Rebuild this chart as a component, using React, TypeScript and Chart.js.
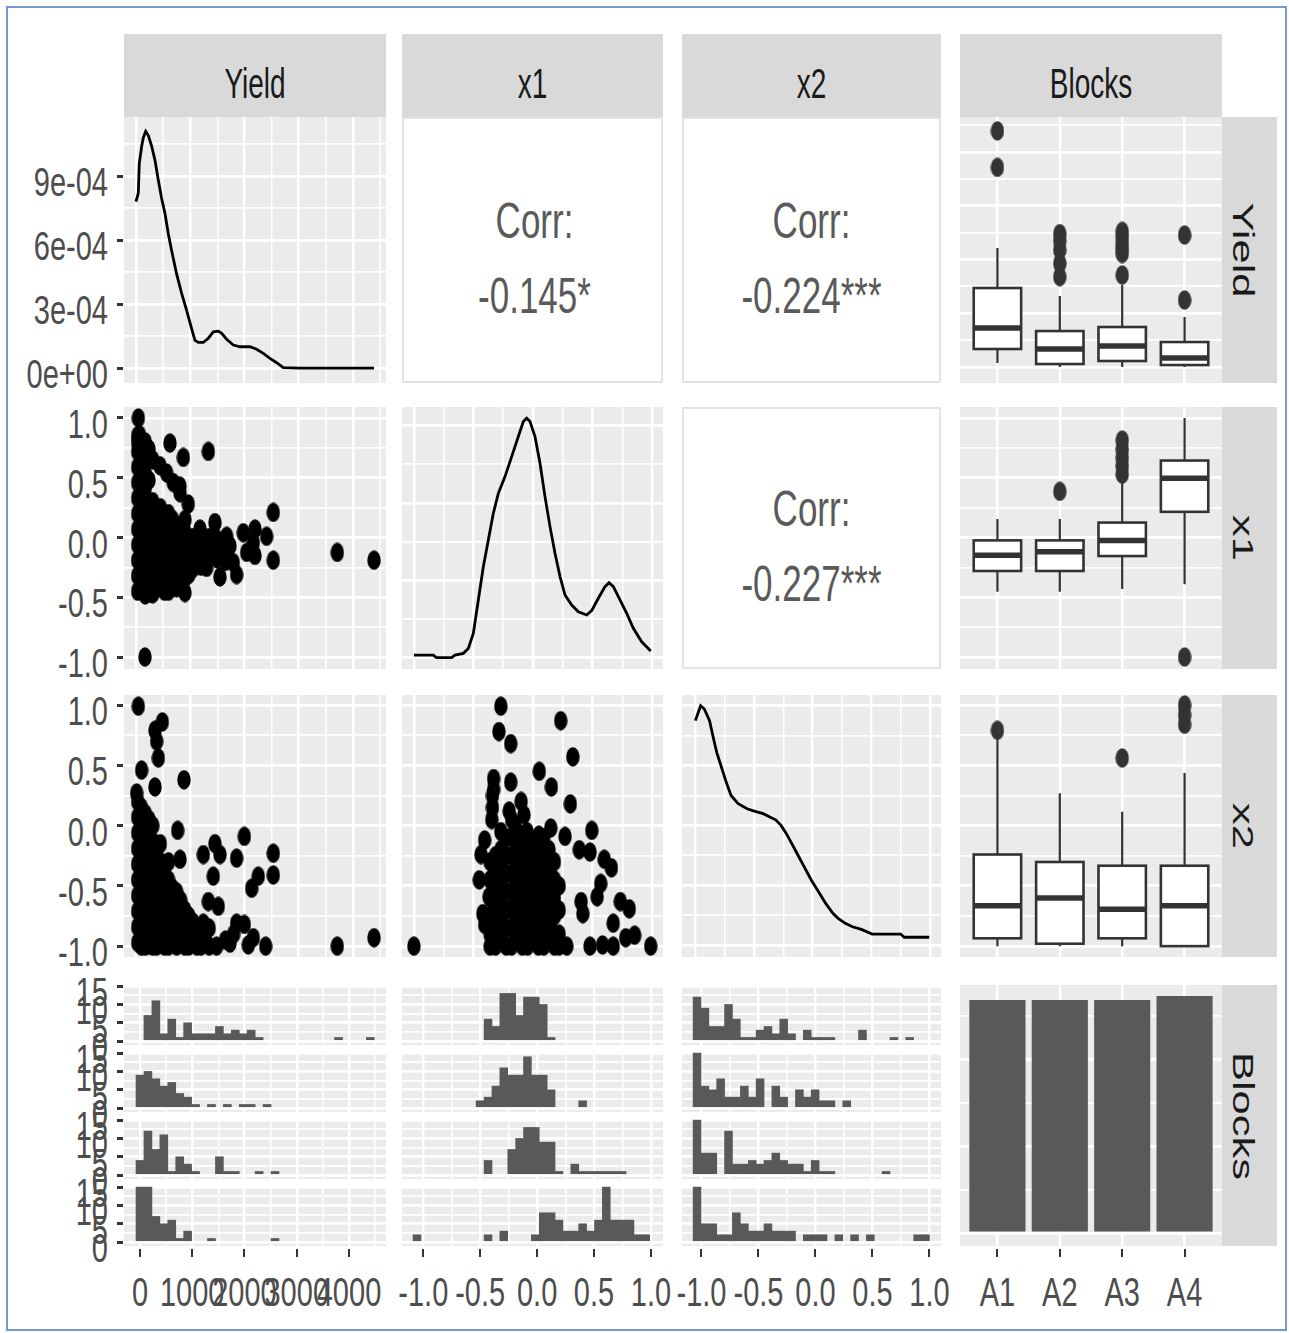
import React, { useEffect, useRef } from 'react';
import { Chart, registerables } from 'chart.js';

Chart.register(...registerables);

// ------------------------------------------------------------------ data
const variableNames = ['Yield', 'x1', 'x2', 'Blocks'];
const blockLabels = ['A1', 'A2', 'A3', 'A4'];
const blockPositions = [1, 2, 3, 4];
const blockCounts = [59, 59, 59, 60];

const yieldTickValues = [0, 1000, 2000, 3000, 4000];
const yieldTickLabels = ['0', '1000', '2000', '3000', '4000'];
const unitTickValues = [-1, -0.5, 0, 0.5, 1];
const unitTickLabels = ['-1.0', '-0.5', '0.0', '0.5', '1.0'];
const densityTickValues = [0, 3e-4, 6e-4, 9e-4];
const densityTickLabels = ['0e+00', '3e-04', '6e-04', '9e-04'];
const countTickValues = [0, 5, 10, 15];
const countTickLabels = ['0', '5', '10', '15'];

const corrValues = ['-0.145*', '-0.224***', '-0.227***'];

// gridline breaks
const yieldMajor = [0, 1000, 2000, 3000, 4000];
const yieldMinor = [500, 1500, 2500, 3500, 4500];
const unitMajor = [-1, -0.5, 0, 0.5, 1];
const unitMinor = [-0.75, -0.25, 0.25, 0.75];
const densMajor = [0, 3e-4, 6e-4, 9e-4];
const densMinor = [1.5e-4, 4.5e-4, 7.5e-4, 1.05e-3];
const x1DensMajor = [0, 0.5, 1, 1.5];
const x1DensMinor = [0.25, 0.75, 1.25];
const x2DensMajor = [0, 0.5, 1, 1.5, 2];
const x2DensMinor = [0.25, 0.75, 1.25, 1.75];
const countMajor = [0, 5, 10, 15];
const countMinor = [2.5, 7.5, 12.5];
const blockCountMajor = [0, 22, 44];
const blockCountMinor = [11, 33, 55];

// diagonal densities
const yieldDensityX = [0, 43, 61, 105, 135, 179, 228, 289, 350, 412, 473, 535, 596, 658, 750, 842, 934, 1026, 1088, 1149, 1241, 1334, 1426, 1518, 1580, 1672, 1795, 1918, 2102, 2225, 2348, 2471, 2594, 2717, 3025, 3639, 4390];
const yieldDensityY = [7.8e-4, 8.2e-4, 9.6e-4, 1.04e-3, 1.08e-3, 1.11e-3, 1.09e-3, 1.04e-3, 9.75e-4, 8.8e-4, 7.95e-4, 7.25e-4, 6.3e-4, 5.5e-4, 4.4e-4, 3.5e-4, 2.7e-4, 1.85e-4, 1.3e-4, 1.2e-4, 1.2e-4, 1.4e-4, 1.7e-4, 1.73e-4, 1.63e-4, 1.35e-4, 1.08e-4, 1.0e-4, 1.0e-4, 8.8e-5, 6.9e-5, 4.5e-5, 2.5e-5, 2e-6, 0, 0, 0];
const x1DensityX = [-1.0, -0.838, -0.81, -0.683, -0.655, -0.585, -0.543, -0.501, -0.459, -0.417, -0.375, -0.333, -0.291, -0.235, -0.179, -0.123, -0.081, -0.053, -0.025, 0.017, 0.059, 0.101, 0.143, 0.185, 0.227, 0.269, 0.325, 0.381, 0.451, 0.493, 0.549, 0.605, 0.639, 0.675, 0.731, 0.787, 0.843, 0.913, 0.989];
const x1DensityY = [0.017, 0.017, 0, 0, 0.017, 0.028, 0.06, 0.157, 0.373, 0.588, 0.761, 0.933, 1.062, 1.17, 1.299, 1.429, 1.526, 1.547, 1.526, 1.429, 1.256, 1.041, 0.847, 0.675, 0.524, 0.405, 0.34, 0.297, 0.276, 0.304, 0.384, 0.459, 0.485, 0.459, 0.373, 0.287, 0.19, 0.103, 0.043];
const x2DensityX = [-1.0, -0.955, -0.924, -0.879, -0.848, -0.818, -0.787, -0.742, -0.696, -0.635, -0.559, -0.498, -0.422, -0.361, -0.315, -0.27, -0.224, -0.178, -0.133, -0.072, -0.011, 0.05, 0.111, 0.172, 0.217, 0.278, 0.339, 0.415, 0.507, 0.659, 0.75, 0.781, 0.994];
const x2DensityY = [1.876, 2.0, 1.973, 1.876, 1.737, 1.611, 1.515, 1.376, 1.25, 1.181, 1.139, 1.119, 1.098, 1.069, 1.047, 1.0, 0.931, 0.848, 0.765, 0.653, 0.542, 0.445, 0.348, 0.265, 0.223, 0.181, 0.153, 0.131, 0.092, 0.092, 0.092, 0.065, 0.065];

// scatter panels
const yieldX1Points = [
  [43, 1.0], [64, 0.86], [30, 0.8], [627, 0.79], [873, 0.67], [1334, 0.72], [443, 0.6], [565, 0.54], [688, 0.46], [811, 0.375],
  [811, 0.43], [965, 0.28], [904, 0.15], [1457, 0.125], [2532, 0.21], [1979, 0.04], [2194, 0.07], [2409, 0.01], [2532, -0.19], [2194, -0.15],
  [2041, -0.125], [3712, -0.125], [4390, -0.19], [1303, -0.25], [1549, -0.33], [1856, -0.31], [904, -0.46], [658, -0.42], [258, -0.46], [166, -1.0],
  [1180, 0.07], [1180, -0.07], [1487, -0.01], [1733, -0.07], [1795, -0.21], [1672, 0.01], [2164, -0.04],
  [30, 0.85], [30, 0.72], [30, 0.59], [30, 0.46], [30, 0.33], [30, 0.2], [30, 0.07], [30, -0.06], [30, -0.19], [30, -0.32], [30, -0.45],
  [100, 0.78], [100, 0.65], [100, 0.52], [100, 0.39], [100, 0.26], [100, 0.13], [100, 0.0], [100, -0.13], [100, -0.26], [100, -0.39],
  [170, 0.8], [170, 0.67], [170, 0.54], [170, 0.41], [170, 0.28], [170, 0.15], [170, 0.02], [170, -0.11], [170, -0.24], [170, -0.37], [170, -0.48],
  [240, 0.74], [240, 0.48], [240, 0.22], [240, 0.09], [240, -0.04], [240, -0.17], [240, -0.3], [240, -0.43],
  [310, 0.65], [310, 0.3], [310, 0.17], [310, 0.04], [310, -0.09], [310, -0.22], [310, -0.35], [310, -0.47],
  [380, 0.23], [380, 0.1], [380, -0.03], [380, -0.16], [380, -0.29], [380, -0.42],
  [450, 0.25], [450, 0.12], [450, -0.01], [450, -0.14], [450, -0.27], [450, -0.4],
  [525, 0.18], [525, 0.05], [525, -0.08], [525, -0.21], [525, -0.34], [525, -0.45],
  [600, 0.2], [600, 0.07], [600, -0.06], [600, -0.19], [600, -0.32], [600, -0.45],
  [675, 0.15], [675, 0.02], [675, -0.11], [675, -0.24], [675, -0.37],
  [750, 0.1], [750, -0.03], [750, -0.16], [750, -0.29], [750, -0.42],
  [825, 0.0], [825, -0.13], [825, -0.26], [825, -0.39],
  [900, 0.05], [900, -0.08], [900, -0.21], [900, -0.34],
  [975, -0.05], [975, -0.18], [975, -0.31],
  [1050, 0.0], [1050, -0.13], [1050, -0.26], [1125, -0.07], [1125, -0.2],
  [1200, 0.02], [1200, -0.11], [1200, -0.24], [1275, -0.05], [1275, -0.18],
  [1350, 0.0], [1350, -0.13], [1500, -0.05], [1500, -0.18], [1650, -0.08], [1650, -0.2],
];
const yieldX2Points = [
  [43, 0.99], [486, 0.86], [350, 0.79], [381, 0.7], [412, 0.56], [104, 0.46], [350, 0.32], [885, 0.38], [12, 0.27], [768, -0.04],
  [1242, -0.24], [1457, -0.15], [1549, -0.24], [1856, -0.27], [1998, -0.09], [2532, -0.23], [2532, -0.41], [1426, -0.42], [2256, -0.42], [2133, -0.52],
  [1334, -0.63], [1518, -0.67], [1856, -0.81], [1998, -0.82], [2071, -0.99], [2164, -0.93], [2391, -1.0], [3712, -1.0], [4390, -0.93], [1487, -1.0],
  [1733, -0.975], [811, -0.28], [1242, -0.81], [1057, -0.89], [450, -0.15], [600, -0.3],
  [30, 0.2], [30, 0.07], [30, -0.06], [30, -0.19], [30, -0.32], [30, -0.45], [30, -0.58], [30, -0.71], [30, -0.84], [30, -0.97],
  [100, 0.15], [100, 0.02], [100, -0.11], [100, -0.24], [100, -0.37], [100, -0.5], [100, -0.63], [100, -0.76], [100, -0.89], [100, -1.0],
  [170, 0.1], [170, -0.03], [170, -0.16], [170, -0.29], [170, -0.42], [170, -0.55], [170, -0.68], [170, -0.81], [170, -0.94], [170, -1.0],
  [240, 0.05], [240, -0.08], [240, -0.21], [240, -0.34], [240, -0.47], [240, -0.6], [240, -0.73], [240, -0.86], [240, -0.99],
  [310, 0.0], [310, -0.13], [310, -0.26], [310, -0.39], [310, -0.52], [310, -0.65], [310, -0.78], [310, -0.91], [310, -1.0],
  [380, -0.2], [380, -0.35], [380, -0.5], [380, -0.63], [380, -0.76], [380, -0.89], [380, -1.0],
  [450, -0.3], [450, -0.45], [450, -0.58], [450, -0.71], [450, -0.84], [450, -0.97],
  [525, -0.38], [525, -0.52], [525, -0.65], [525, -0.78], [525, -0.91], [525, -1.0],
  [600, -0.45], [600, -0.6], [600, -0.75], [600, -0.9], [600, -1.0],
  [675, -0.52], [675, -0.67], [675, -0.8], [675, -0.93],
  [750, -0.55], [750, -0.7], [750, -0.85], [750, -1.0],
  [825, -0.62], [825, -0.77], [825, -0.92],
  [900, -0.7], [900, -0.85], [900, -1.0], [975, -0.75], [975, -0.9], [975, -1.0],
  [1050, -0.8], [1050, -0.95], [1125, -0.85], [1125, -1.0],
  [1200, -0.9], [1200, -1.0], [1275, -0.95], [1350, -0.85], [1350, -1.0], [1650, -0.95], [1800, -0.9],
];
const x1X2Points = [
  [-1.0, -1.0], [-0.27, 0.99], [0.233, 0.87], [-0.286, 0.78], [-0.187, 0.68], [0.335, 0.57], [0.053, 0.45], [0.155, 0.32], [-0.187, 0.36], [-0.331, 0.39],
  [0.314, 0.18], [-0.331, 0.3], [-0.076, 0.09], [0.494, -0.04], [0.149, -0.02], [0.269, -0.09], [-0.406, -0.12], [0.389, -0.2], [0.479, -0.22], [0.599, -0.28],
  [0.659, -0.35], [-0.436, -0.24], [-0.451, -0.45], [0.569, -0.48], [0.404, -0.63], [0.419, -0.73], [0.539, -0.59], [0.734, -0.63], [0.809, -0.69], [0.674, -0.81],
  [0.854, -0.91], [0.779, -0.93], [0.989, -1.0], [0.284, -1.0], [0.479, -1.0], [0.584, -0.99], [0.674, -1.0], [-0.406, -0.82], [-0.421, -0.73], [-0.368, -0.59],
  [-0.286, -0.81], [-0.34, 0.25], [-0.34, 0.15], [-0.346, 0.05], [-0.2, 0.12], [-0.1, 0.2], [-0.15, 0.0], [-0.05, -0.05], [0.05, -0.08],
  [-0.36, -0.3], [-0.36, -0.45], [-0.36, -0.6], [-0.36, -0.75], [-0.36, -0.9], [-0.36, -1.0],
  [-0.315, -0.25], [-0.315, -0.4], [-0.315, -0.55], [-0.315, -0.7], [-0.315, -0.85], [-0.315, -1.0],
  [-0.27, -0.05], [-0.27, -0.2], [-0.27, -0.35], [-0.27, -0.5], [-0.27, -0.65], [-0.27, -0.8], [-0.27, -0.95],
  [-0.225, -0.1], [-0.225, -0.25], [-0.225, -0.4], [-0.225, -0.55], [-0.225, -0.7], [-0.225, -0.85], [-0.225, -1.0],
  [-0.18, 0.05], [-0.18, -0.1], [-0.18, -0.25], [-0.18, -0.4], [-0.18, -0.55], [-0.18, -0.7], [-0.18, -0.85], [-0.18, -1.0],
  [-0.135, -0.05], [-0.135, -0.2], [-0.135, -0.35], [-0.135, -0.5], [-0.135, -0.65], [-0.135, -0.8], [-0.135, -0.95],
  [-0.09, -0.15], [-0.09, -0.3], [-0.09, -0.45], [-0.09, -0.6], [-0.09, -0.75], [-0.09, -0.9], [-0.09, -1.0],
  [-0.045, -0.1], [-0.045, -0.25], [-0.045, -0.4], [-0.045, -0.55], [-0.045, -0.7], [-0.045, -0.85], [-0.045, -1.0],
  [0.0, -0.2], [0.0, -0.35], [0.0, -0.5], [0.0, -0.65], [0.0, -0.8], [0.0, -0.95],
  [0.045, -0.15], [0.045, -0.3], [0.045, -0.45], [0.045, -0.6], [0.045, -0.75], [0.045, -0.9], [0.045, -1.0],
  [0.09, -0.1], [0.09, -0.25], [0.09, -0.4], [0.09, -0.55], [0.09, -0.7], [0.09, -0.85], [0.09, -1.0],
  [0.135, -0.2], [0.135, -0.35], [0.135, -0.5], [0.135, -0.65], [0.135, -0.8], [0.135, -0.95],
  [0.18, -0.3], [0.18, -0.45], [0.18, -0.6], [0.18, -0.75], [0.18, -0.9], [0.18, -1.0],
  [0.22, -0.5], [0.22, -0.7], [0.22, -0.9], [0.22, -1.0],
];

// boxplots: [lower whisker, q1, median, q3, upper whisker] per block
const yieldBoxStats = [[74, 335, 725, 1469, 2213], [0, 56, 335, 669, 1320], [0, 112, 390, 744, 1525], [0, 37, 167, 465, 930]];
const yieldOutliers = [[1, 4390], [1, 3712], [2, 2480], [2, 2350], [2, 2180], [2, 1930], [2, 1680], [3, 2520], [3, 2420], [3, 2300], [3, 2200], [3, 2110], [3, 1710], [4, 2454], [4, 1246]];
const x1BoxStats = [[-0.454, -0.28, -0.149, -0.024, 0.156], [-0.454, -0.28, -0.118, -0.024, 0.156], [-0.43, -0.155, -0.024, 0.125, 0.489], [-0.39, 0.215, 0.495, 0.644, 1.0]];
const x1Outliers = [[2, 0.386], [3, 0.815], [3, 0.74], [3, 0.67], [3, 0.6], [3, 0.53], [4, -1.0]];
const x2BoxStats = [[-1.0, -0.935, -0.664, -0.24, 0.72], [-1.0, -0.98, -0.6, -0.302, 0.268], [-1.0, -0.935, -0.695, -0.333, 0.114], [-1.0, -1.0, -0.664, -0.333, 0.437]];
const x2Outliers = [[1, 0.79], [3, 0.56], [4, 1.0], [4, 0.92], [4, 0.84]];

// histograms (bottom row): bin centres and counts per block
const yieldBinCenters = [0, 152, 304, 456, 608, 760, 912, 1064, 1216, 1368, 1520, 1672, 1824, 1976, 2128, 2280, 2432, 2584, 2736, 2888, 3040, 3192, 3344, 3496, 3648, 3800, 3952, 4104, 4256, 4408];
const yieldCountsA1 = [0, 7, 11, 2, 6, 1, 5, 2, 2, 2, 4, 2, 3, 2, 3, 1, 0, 0, 0, 0, 0, 0, 0, 0, 0, 1, 0, 0, 0, 1];
const yieldCountsA2 = [9, 10, 8, 6, 7, 4, 3, 1, 0, 1, 0, 1, 0, 1, 1, 0, 1, 0, 0, 0, 0, 0, 0, 0, 0, 0, 0, 0, 0, 0];
const yieldCountsA3 = [4, 12, 7, 11, 1, 5, 3, 1, 0, 0, 5, 1, 1, 0, 0, 1, 0, 1, 0, 0, 0, 0, 0, 0, 0, 0, 0, 0, 0, 0];
const yieldCountsA4 = [15, 15, 7, 5, 6, 1, 3, 0, 0, 1, 0, 0, 0, 0, 0, 0, 0, 1, 0, 0, 0, 0, 0, 0, 0, 0, 0, 0, 0, 0];
const x1BinCenters = [-1.055, -0.986, -0.916, -0.847, -0.778, -0.708, -0.639, -0.57, -0.501, -0.431, -0.362, -0.293, -0.223, -0.154, -0.085, -0.016, 0.054, 0.123, 0.192, 0.262, 0.331, 0.4, 0.47, 0.539, 0.608, 0.677, 0.747, 0.816, 0.885, 0.955];
const x1CountsA1 = [0, 0, 0, 0, 0, 0, 0, 0, 0, 6, 4, 13, 13, 7, 12, 12, 10, 1, 0, 0, 0, 0, 0, 0, 0, 0, 0, 0, 0, 0];
const x1CountsA2 = [0, 0, 0, 0, 0, 0, 0, 0, 2, 3, 6, 11, 9, 9, 14, 9, 9, 5, 0, 0, 0, 2, 0, 0, 0, 0, 0, 0, 0, 0];
const x1CountsA3 = [0, 0, 0, 0, 0, 0, 0, 0, 0, 4, 0, 0, 7, 10, 13, 13, 9, 9, 1, 0, 3, 1, 1, 1, 1, 1, 1, 0, 0, 0];
const x1CountsA4 = [2, 0, 0, 0, 0, 0, 0, 0, 0, 2, 0, 3, 0, 0, 0, 2, 8, 8, 6, 3, 3, 5, 3, 6, 15, 6, 6, 6, 2, 2];
const x2BinCenters = [-1.039, -0.97, -0.901, -0.832, -0.763, -0.694, -0.624, -0.555, -0.486, -0.417, -0.348, -0.279, -0.21, -0.141, -0.072, -0.003, 0.066, 0.135, 0.205, 0.274, 0.343, 0.412, 0.481, 0.55, 0.619, 0.688, 0.757, 0.826, 0.896, 0.965];
const x2CountsA1 = [12, 9, 4, 4, 10, 6, 1, 1, 3, 4, 2, 6, 2, 0, 3, 1, 1, 1, 0, 0, 0, 3, 0, 0, 0, 1, 0, 1, 0, 0];
const x2CountsA2 = [15, 6, 5, 8, 3, 3, 6, 3, 8, 0, 6, 3, 0, 5, 3, 5, 2, 2, 0, 2, 0, 0, 0, 0, 0, 0, 0, 0, 0, 0];
const x2CountsA3 = [15, 6, 6, 0, 12, 3, 3, 4, 3, 4, 6, 4, 3, 3, 1, 4, 1, 1, 0, 0, 0, 0, 0, 0, 1, 0, 0, 0, 0, 0];
const x2CountsA4 = [15, 5, 5, 2, 2, 8, 5, 3, 3, 5, 3, 3, 3, 0, 2, 2, 2, 0, 2, 0, 2, 0, 2, 0, 0, 0, 0, 0, 2, 2];

// ------------------------------------------------------------------ layout
const COLS = [[124, 386], [402, 663], [682, 941], [960, 1222]];
const ROWS = [[117, 383], [407, 669], [695, 957], [985, 1246]];
const FACET_TOPS = [985, 1052, 1119, 1186];
const FACET_H = 60;
const STRIP_TOP = [34, 117];
const STRIP_RIGHT = [1222, 1277];
const BOX_HALF = 0.38;
const Y_LABEL_SHIFT = 7;

const RANGE = {
  yieldUpper: [-221, 4611],
  yieldBottom: [-306, 4708],
  yieldBox: [-297, 4649],
  density: [-7e-5, 1.177e-3],
  x1Col: [-1.1, 1.092],
  x2Col: [-1.114, 1.094],
  x1Row: [-1.1, 1.092],
  x2Row: [-1.09, 1.083],
  x1Bottom: [-1.187, 1.106],
  x2Bottom: [-1.171, 1.101],
  x1Dens: [-0.073, 1.62],
  x2Dens: [-0.1, 2.09],
  count: [-1.05, 15.3],
  block: [0.4, 4.6],
  blockCount: [-3.29, 62.8],
};

const FONT = '"Liberation Sans", Arial, Helvetica, sans-serif';
const PANEL_BG = '#ebebeb';

// ------------------------------------------------------------------ chart helpers
function axis(range: number[], major: number[], minor: number[], horizontal: boolean) {
  const [min, max] = range;
  const vals = [...major, ...minor].filter((v) => v > min && v < max).sort((a, b) => a - b);
  return {
    type: 'linear',
    min,
    max,
    offset: false,
    beginAtZero: false,
    ticks: { display: false },
    border: { display: false },
    grid: {
      offset: false,
      color: '#ffffff',
      drawTicks: false,
      lineWidth: (ctx: any) => {
        const isMajor = ctx.tick && major.indexOf(ctx.tick.value) >= 0;
        if (horizontal) return isMajor ? 2.4 : 1.5;
        return isMajor ? 2.8 : 1.8;
      },
    },
    afterBuildTicks: (s: any) => {
      s.ticks = vals.map((v) => ({ value: v }));
    },
    afterFit: (s: any) => {
      if (horizontal) s.height = 0;
      else s.width = 0;
    },
  };
}

function baseOptions(x: any, y: any) {
  return {
    animation: false,
    responsive: false,
    maintainAspectRatio: false,
    devicePixelRatio: 1,
    events: [],
    layout: { padding: 0, autoPadding: false },
    plugins: { legend: { display: false }, tooltip: { enabled: false }, title: { display: false } },
    scales: { x, y },
  };
}

function dotImage(color: string) {
  const c = document.createElement('canvas');
  c.width = 14;
  c.height = 20;
  const g = c.getContext('2d')!;
  g.fillStyle = color;
  g.beginPath();
  g.ellipse(7, 10, 6.7, 9.7, 0, 0, Math.PI * 2);
  g.fill();
  return c;
}

function scatterConfig(points: number[][], xAxis: any, yAxis: any) {
  return {
    type: 'scatter',
    data: {
      datasets: [
        {
          data: points.map(([x, y]) => ({ x, y })),
          pointStyle: dotImage('#000000'),
          pointRadius: 10,
          pointHoverRadius: 10,
          borderWidth: 0,
        },
      ],
    },
    options: baseOptions(xAxis, yAxis),
  };
}

function densityConfig(xs: number[], ys: number[], xAxis: any, yAxis: any) {
  return {
    type: 'scatter',
    data: {
      datasets: [
        {
          data: xs.map((x, i) => ({ x, y: ys[i] })),
          showLine: true,
          borderColor: '#000000',
          borderWidth: 2.8,
          pointRadius: 0,
          fill: false,
          tension: 0,
        },
      ],
    },
    options: baseOptions(xAxis, yAxis),
  };
}

function boxPlugin(stats: number[][]) {
  return {
    id: 'boxplots',
    beforeDatasetsDraw(chart: any) {
      const ctx = chart.ctx;
      const xs = chart.scales.x;
      const ys = chart.scales.y;
      ctx.save();
      ctx.strokeStyle = '#333333';
      stats.forEach((s, i) => {
        const cx = xs.getPixelForValue(blockPositions[i]);
        const half = xs.getPixelForValue(blockPositions[i] + BOX_HALF) - cx;
        const lo = ys.getPixelForValue(s[0]);
        const q1 = ys.getPixelForValue(s[1]);
        const md = ys.getPixelForValue(s[2]);
        const q3 = ys.getPixelForValue(s[3]);
        const hi = ys.getPixelForValue(s[4]);
        ctx.lineWidth = 2.2;
        ctx.beginPath();
        ctx.moveTo(cx, hi);
        ctx.lineTo(cx, q3);
        ctx.moveTo(cx, q1);
        ctx.lineTo(cx, lo);
        ctx.stroke();
        ctx.fillStyle = '#ffffff';
        ctx.fillRect(cx - half, q3, half * 2, q1 - q3);
        ctx.lineWidth = 2.6;
        ctx.strokeRect(cx - half, q3, half * 2, q1 - q3);
        ctx.lineWidth = 5.5;
        ctx.beginPath();
        ctx.moveTo(cx - half, md);
        ctx.lineTo(cx + half, md);
        ctx.stroke();
      });
      ctx.restore();
    },
  };
}

function boxConfig(stats: number[][], outliers: number[][], yAxis: any) {
  return {
    type: 'scatter',
    data: {
      datasets: [
        {
          data: outliers.map(([b, v]) => ({ x: b, y: v })),
          pointStyle: dotImage('#333333'),
          pointRadius: 10,
          pointHoverRadius: 10,
          borderWidth: 0,
        },
      ],
    },
    options: baseOptions(axis(RANGE.block, blockPositions, [], true), yAxis),
    plugins: [boxPlugin(stats)],
  };
}

function histConfig(centers: number[], counts: number[], xAxis: any) {
  return {
    type: 'bar',
    data: {
      datasets: [
        {
          data: counts.map((n, i) => ({ x: centers[i], y: n > 0 ? n : null })),
          backgroundColor: '#595959',
          borderWidth: 0,
          barPercentage: 1,
          categoryPercentage: 1,
        },
      ],
    },
    options: baseOptions(xAxis, axis(RANGE.count, countMajor, countMinor, false)),
  };
}

function blocksBarConfig() {
  return {
    type: 'bar',
    data: {
      datasets: [
        {
          data: blockCounts.map((n, i) => ({ x: blockPositions[i], y: n })),
          backgroundColor: '#595959',
          borderWidth: 0,
          barPercentage: 0.9,
          categoryPercentage: 1,
        },
      ],
    },
    options: baseOptions(
      axis(RANGE.block, blockPositions, [], true),
      axis(RANGE.blockCount, blockCountMajor, blockCountMinor, false)
    ),
  };
}

// ------------------------------------------------------------------ components
function ChartCanvas({ left, top, width, height, make }: any) {
  const ref = useRef<HTMLCanvasElement | null>(null);
  useEffect(() => {
    const c = ref.current;
    if (!c) return;
    const chart = new Chart(c, make());
    return () => chart.destroy();
  }, []);
  return (
    <canvas
      ref={ref}
      width={width}
      height={height}
      style={{ position: 'absolute', left, top, width, height, background: PANEL_BG, display: 'block' }}
    />
  );
}

function Label({ x, y, text, size = 29, stretch = 1.4, color = '#4d4d4d', anchor = 'center', rotate = false }: any) {
  const transform = rotate
    ? `translate(-50%, -50%) rotate(90deg) scaleX(${stretch})`
    : `translate(${anchor === 'right' ? '-100%' : '-50%'}, -50%) scaleY(${stretch})`;
  return (
    <div
      style={{
        position: 'absolute',
        left: x,
        top: y,
        transform,
        fontFamily: FONT,
        fontSize: size,
        lineHeight: 1,
        color,
        whiteSpace: 'nowrap',
      }}
    >
      {text}
    </div>
  );
}

const mapX = (v: number, r: number[], px: number[]) => px[0] + ((v - r[0]) / (r[1] - r[0])) * (px[1] - px[0]);
const mapY = (v: number, r: number[], px: number[]) => px[1] - ((v - r[0]) / (r[1] - r[0])) * (px[1] - px[0]);

export default function App() {
  const els: any[] = [];
  const box = (c: number, r: number) => ({
    left: COLS[c][0],
    top: ROWS[r][0],
    width: COLS[c][1] - COLS[c][0],
    height: ROWS[r][1] - ROWS[r][0],
  });

  // outer blue frame
  els.push(
    <div
      key="frame"
      style={{ position: 'absolute', left: 6, top: 6, width: 1281, height: 1325, border: '2px solid #7299d4', boxSizing: 'border-box' }}
    />
  );

  // strips
  variableNames.forEach((name, i) => {
    els.push(
      <div key={'st' + i} style={{ position: 'absolute', left: COLS[i][0], top: STRIP_TOP[0], width: COLS[i][1] - COLS[i][0], height: STRIP_TOP[1] - STRIP_TOP[0], background: '#d9d9d9' }} />
    );
    els.push(<Label key={'stl' + i} x={(COLS[i][0] + COLS[i][1]) / 2} y={84} text={name} size={28} stretch={1.5} color="#1a1a1a" />);
    els.push(
      <div key={'sr' + i} style={{ position: 'absolute', left: STRIP_RIGHT[0], top: ROWS[i][0], width: STRIP_RIGHT[1] - STRIP_RIGHT[0], height: ROWS[i][1] - ROWS[i][0], background: '#d9d9d9' }} />
    );
    els.push(<Label key={'srl' + i} x={1242} y={(ROWS[i][0] + ROWS[i][1]) / 2} text={name} size={29} stretch={1.5} color="#1a1a1a" rotate />);
  });

  // correlation panels
  const corrCells = [[0, 1], [0, 2], [1, 2]];
  corrCells.forEach(([r, c], i) => {
    const b = box(c, r);
    els.push(<div key={'cp' + i} style={{ position: 'absolute', ...b, background: '#ffffff', border: '2px solid #e3e3e3', boxSizing: 'border-box' }} />);
    const cx = b.left + b.width / 2 + (c === 1 ? 2 : 0);
    const cy = b.top + b.height / 2;
    els.push(<Label key={'cc' + i} x={cx} y={cy - 30} text="Corr:" size={35} stretch={1.45} color="#5a5a5a" />);
    els.push(<Label key={'cv' + i} x={cx} y={cy + 45} text={corrValues[i]} size={35} stretch={1.45} color="#5a5a5a" />);
  });

  // chart panels
  const yieldX = (r: number[]) => axis(r, yieldMajor, yieldMinor, true);
  const unitX = (r: number[]) => axis(r, unitMajor, unitMinor, true);
  const unitY = (r: number[]) => axis(r, unitMajor, unitMinor, false);

  const panels: any[] = [
    [0, 0, () => densityConfig(yieldDensityX, yieldDensityY, yieldX(RANGE.yieldUpper), axis(RANGE.density, densMajor, densMinor, false))],
    [0, 3, () => boxConfig(yieldBoxStats, yieldOutliers, axis(RANGE.yieldBox, yieldMajor, yieldMinor, false))],
    [1, 0, () => scatterConfig(yieldX1Points, yieldX(RANGE.yieldUpper), unitY(RANGE.x1Row))],
    [1, 1, () => densityConfig(x1DensityX, x1DensityY, unitX(RANGE.x1Col), axis(RANGE.x1Dens, x1DensMajor, x1DensMinor, false))],
    [1, 3, () => boxConfig(x1BoxStats, x1Outliers, unitY(RANGE.x1Row))],
    [2, 0, () => scatterConfig(yieldX2Points, yieldX(RANGE.yieldUpper), unitY(RANGE.x2Row))],
    [2, 1, () => scatterConfig(x1X2Points, unitX(RANGE.x1Col), unitY(RANGE.x2Row))],
    [2, 2, () => densityConfig(x2DensityX, x2DensityY, unitX(RANGE.x2Col), axis(RANGE.x2Dens, x2DensMajor, x2DensMinor, false))],
    [2, 3, () => boxConfig(x2BoxStats, x2Outliers, unitY(RANGE.x2Row))],
    [3, 3, () => blocksBarConfig()],
  ];
  panels.forEach(([r, c, make], i) => {
    els.push(<ChartCanvas key={'p' + i} {...box(c, r)} make={make} />);
  });

  // faceted histograms (bottom row)
  const histCols: any[] = [
    [yieldBinCenters, [yieldCountsA1, yieldCountsA2, yieldCountsA3, yieldCountsA4], () => yieldX(RANGE.yieldBottom)],
    [x1BinCenters, [x1CountsA1, x1CountsA2, x1CountsA3, x1CountsA4], () => unitX(RANGE.x1Bottom)],
    [x2BinCenters, [x2CountsA1, x2CountsA2, x2CountsA3, x2CountsA4], () => unitX(RANGE.x2Bottom)],
  ];
  histCols.forEach(([centers, countSets, xa], c) => {
    countSets.forEach((counts: number[], f: number) => {
      els.push(
        <ChartCanvas
          key={`h${c}-${f}`}
          left={COLS[c][0]}
          top={FACET_TOPS[f]}
          width={COLS[c][1] - COLS[c][0]}
          height={FACET_H}
          make={() => histConfig(centers, counts, xa())}
        />
      );
    });
  });

  // y axis labels + tick marks
  const yAxisSpecs: any[] = [
    [densityTickValues, densityTickLabels, RANGE.density, ROWS[0]],
    [unitTickValues, unitTickLabels, RANGE.x1Row, ROWS[1]],
    [unitTickValues, unitTickLabels, RANGE.x2Row, ROWS[2]],
    ...FACET_TOPS.map((t) => [countTickValues, countTickLabels, RANGE.count, [t, t + FACET_H]]),
  ];
  yAxisSpecs.forEach(([vals, labels, range, px], k) => {
    vals.forEach((v: number, j: number) => {
      const y = mapY(v, range, px);
      els.push(<div key={`yt${k}-${j}`} style={{ position: 'absolute', left: 117, top: y - 1.5, width: 6, height: 3, background: '#333333' }} />);
      els.push(<Label key={`yl${k}-${j}`} x={108} y={y + Y_LABEL_SHIFT} text={labels[j]} anchor="right" />);
    });
  });

  // x axis labels + tick marks
  const xAxisSpecs: any[] = [
    [yieldTickValues, yieldTickLabels, RANGE.yieldBottom, COLS[0]],
    [unitTickValues, unitTickLabels, RANGE.x1Bottom, COLS[1]],
    [unitTickValues, unitTickLabels, RANGE.x2Bottom, COLS[2]],
    [blockPositions, blockLabels, RANGE.block, COLS[3]],
  ];
  xAxisSpecs.forEach(([vals, labels, range, px], k) => {
    vals.forEach((v: number, j: number) => {
      const x = mapX(v, range, px);
      els.push(<div key={`xt${k}-${j}`} style={{ position: 'absolute', left: x - 1, top: 1249, width: 2, height: 8, background: '#333333' }} />);
      els.push(<Label key={`xl${k}-${j}`} x={x} y={1293} text={labels[j]} />);
    });
  });

  return (
    <div style={{ position: 'absolute', left: 0, top: 0, width: 1289, height: 1333, background: '#ffffff', overflow: 'hidden' }}>
      {els}
    </div>
  );
}
